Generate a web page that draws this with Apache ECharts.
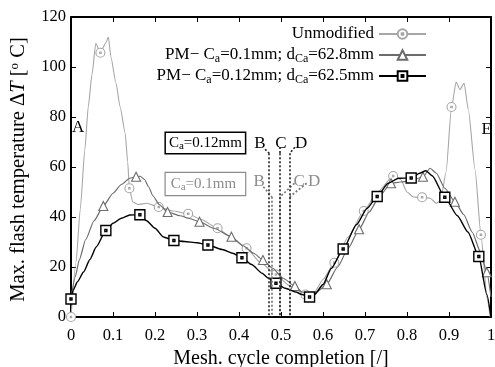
<!DOCTYPE html>
<html><head><meta charset="utf-8">
<script src="https://cdn.jsdelivr.net/npm/echarts@6/dist/echarts.min.js"></script>
<style>html,body{margin:0;padding:0;background:#fff}#c{width:495px;height:367px}</style>
</head><body><div id="c"></div>
<script>
// ---- tick labels ----
const xTickLabels = ['0','0.1','0.2','0.3','0.4','0.5','0.6','0.7','0.8','0.9','1'];
const yTickLabels = ['0','20','40','60','80','100','120'];

// ---- Unmodified ----
const unmodMarkX = [0, 0.07, 0.139, 0.209, 0.279, 0.349, 0.418, 0.488, 0.558, 0.627, 0.697, 0.767, 0.836, 0.906, 0.976];
const unmodMarkY = [0, 105.7, 51.5, 44, 41.3, 35.5, 27.5, 17, 9, 21.7, 42.4, 56.4, 47.9, 84, 32.9];
const unmodCurveX = [0.012,0.022,0.033,0.041,0.05,0.059,0.083,0.089,0.095,0.107,0.117,0.129,0.135,0.147,0.16,0.18,0.24,0.31,0.38,0.45,0.52,0.58,0.60,0.66,0.73,0.785,0.80,0.815,0.855,0.87,0.88,0.893,0.917,0.926,0.936,0.946,0.962,0.991,0.998];
const unmodCurveY = [22,43,67,84,97,109.5,109.7,112,104,93.6,84,73.6,62,46,45,45.5,42.5,39,32,22,12.5,10,15,32,50,55,50,48,47.5,45.5,46.5,58,94,91,93.5,83,59,7,0];

// ---- PM Ca=0.1mm ----
const pm1MarkX = [0.077, 0.155, 0.23, 0.306, 0.382, 0.457, 0.533, 0.609, 0.686, 0.762, 0.838, 0.914, 0.99];
const pm1MarkY = [44.4, 56.1, 42, 38.1, 32.1, 22.8, 12.4, 13.1, 35.1, 53.5, 56.1, 46.1, 17.9];
const pm1CurveX = [0,0.01,0.02,0.035,0.055,0.1,0.12,0.14,0.165,0.175,0.185,0.195,0.21,0.26,0.28,0.34,0.41,0.435,0.48,0.505,0.55,0.57,0.585,0.635,0.66,0.71,0.735,0.785,0.81,0.855,0.87,0.89,0.935,0.955,0.975,1];
const pm1CurveY = [7.5,16,23,31,38.5,49.5,53,55.5,56.3,55,52,48.5,45,40.5,39.5,35.5,28.5,25.5,19.5,15.5,10,9,10,20,27.5,42,48.5,54,54.5,59.5,57.5,51.5,41,34,26,8];

// ---- PM Ca=0.12mm ----
const pm2MarkX = [0, 0.083, 0.164, 0.245, 0.326, 0.407, 0.488, 0.568, 0.648, 0.729, 0.81, 0.89, 0.971];
const pm2MarkY = [7.2, 34.6, 40.9, 30.6, 28.8, 23.7, 13.5, 8, 27.2, 48.2, 55.6, 47.9, 24.2];
const pm2CurveX = [0.006,0.015,0.03,0.045,0.06,0.1,0.12,0.14,0.18,0.2,0.22,0.27,0.3,0.36,0.385,0.43,0.455,0.47,0.51,0.535,0.55,0.58,0.6,0.62,0.68,0.705,0.755,0.78,0.83,0.845,0.86,0.92,0.945,0.99,1];
const pm2CurveY = [11,14,18,23,28,37.5,39.5,40.8,38.5,35.5,32,30.2,29.7,27,25.5,21,17.5,15.5,11.5,10,9,9,13,19.5,37,43.5,53.5,55.5,57.5,58.5,56.5,40.5,34,9,0];

// ---- annotations (data coordinates) ----
const blackCutX = [0.472, 0.498, 0.521]; const blackCutTop = 65.5;
const grayCutX = [0.478, 0.498, 0.521];  const grayCutTop = 48.1;
const blackLeadFrom = [[0.462,67.1],[0.498,68],[0.533,67.9]];
const grayLeadFrom = [[0.458,52.1],[0.532,53.5],[0.561,53.5]];
const cutNames = ['B','C','D'];
const blackLabelPos = [[0.45,69.5],[0.5,69.5],[0.548,69.5]];
const grayLabelPos = [[0.448,54.1],[0.543,54.1],[0.579,54.1]];
const boxBlackPos = [0.32, 69.6];
const boxGrayPos = [0.32, 53.2];
const posA = [0.017, 75.6];
const posE = [0.99, 74.8];

const FONT = 'Liberation Serif';
const C_UN = '#a6a6a6', C_PM1 = '#6c6c6c', C_PM2 = '#000000', C_GRAYANN = '#8c8c8c';

function merge(cx, cy, mx, my) {
  const pts = [];
  cx.forEach((x, i) => pts.push({ value: [x, cy[i]], symbol: 'none' }));
  mx.forEach((x, i) => pts.push({ value: [x, my[i]] }));
  pts.sort((a, b) => a.value[0] - b.value[0]);
  return pts;
}

function cutLines(xs, top, leads) {
  const d = [];
  xs.forEach((x, i) => {
    d.push([{ coord: [x, top] }, { coord: [x, 0] }]);
    d.push([{ coord: leads[i] }, { coord: [x, top] }]);
  });
  return d;
}
function txtPoints(pos, names, color) {
  return pos.map((p, i) => ({ coord: p, label: { formatter: names[i], color: color } }));
}

const SQ = 'path://M0,0H10V10H0Z M4,4H6V6H4Z';
const CI = 'path://M10,5A5,5,0,1,1,0,5A5,5,0,1,1,10,5Z M4.2,4.2H5.8V5.8H4.2Z';

const subRich = {
  n: { fontFamily: FONT, fontSize: 17, lineHeight: 20, color: '#000' },
  s: { fontFamily: FONT, fontSize: 12, lineHeight: 8, verticalAlign: 'bottom', color: '#000' }
};

const markPtBase = {
  symbol: 'circle', symbolSize: 1, itemStyle: { color: 'rgba(0,0,0,0)' },
  label: { show: true, position: 'inside', fontFamily: FONT, fontSize: 17 },
  silent: true, animation: false
};

const chart = echarts.init(document.getElementById('c'), null, { renderer: 'canvas' });
chart.setOption({
  animation: false,
  backgroundColor: '#fff',
  grid: { left: 71, right: 4, top: 17, bottom: 50, containLabel: false, outerBoundsMode: 'none' },
  legend: {
    orient: 'vertical', right: 63, top: 19, align: 'right',
    itemWidth: 47, itemHeight: 12, itemGap: 1,
    data: ['Unmodified', 'PM1', 'PM2'],
    formatter: function (name) {
      if (name === 'Unmodified') return '{n|Unmodified}';
      if (name === 'PM1') return '{n|PM− C}{s|a}{n|=0.1mm; d}{s|Ca}{n|=62.8mm}';
      return '{n|PM− C}{s|a}{n|=0.12mm; d}{s|Ca}{n|=62.5mm}';
    },
    textStyle: { fontFamily: FONT, fontSize: 17, color: '#000', lineHeight: 20, rich: subRich },
    selectedMode: false
  },
  xAxis: [{
    type: 'value', min: 0, max: 1, interval: 0.1, position: 'bottom',
    axisLine: { show: true, onZero: false, lineStyle: { color: '#000', width: 2 } },
    axisTick: { show: true, inside: true, length: 5, lineStyle: { color: '#000', width: 1 } },
    axisLabel: { color: '#000', fontFamily: FONT, fontSize: 16.5, margin: 10,
      formatter: v => xTickLabels[Math.round(v * 10)] },
    splitLine: { show: false },
    name: 'Mesh. cycle completion [/]', nameLocation: 'middle', nameGap: 26,
    nameTextStyle: { fontFamily: FONT, fontSize: 20, color: '#000' }
  }, {
    type: 'value', min: 0, max: 1, interval: 0.1, position: 'top',
    axisLine: { show: true, onZero: false, lineStyle: { color: '#000', width: 2 } },
    axisTick: { show: true, inside: true, length: 5, lineStyle: { color: '#000', width: 1 } },
    axisLabel: { show: false }, splitLine: { show: false }
  }],
  yAxis: [{
    type: 'value', min: 0, max: 120, interval: 20, position: 'left',
    axisLine: { show: true, onZero: false, lineStyle: { color: '#000', width: 2 } },
    axisTick: { show: true, inside: true, length: 5, lineStyle: { color: '#000', width: 1 } },
    axisLabel: { color: '#000', fontFamily: FONT, fontSize: 16.5, margin: 5,
      formatter: v => yTickLabels[Math.round(v / 20)] },
    splitLine: { show: false },
    name: 'Max. flash temperature Δ{i|T} [{sup|o} C]', nameLocation: 'middle', nameGap: 42,
    nameTextStyle: { fontFamily: FONT, fontSize: 20.5, color: '#000', padding: [0, 5, 0, 0],
      rich: {
        i: { fontFamily: FONT, fontSize: 20.5, fontStyle: 'italic', color: '#000' },
        sup: { fontFamily: FONT, fontSize: 13, verticalAlign: 'top', lineHeight: 8, color: '#000' }
      } }
  }, {
    type: 'value', min: 0, max: 120, interval: 20, position: 'right',
    axisLine: { show: true, onZero: false, lineStyle: { color: '#000', width: 2 } },
    axisTick: { show: true, inside: true, length: 5, lineStyle: { color: '#000', width: 1 } },
    axisLabel: { show: false }, splitLine: { show: false }
  }],
  series: [
    {
      name: 'Unmodified', type: 'line', xAxisIndex: 0, yAxisIndex: 0,
      data: merge(unmodCurveX, unmodCurveY, unmodMarkX, unmodMarkY),
      smooth: 0.2, smoothMonotone: 'x', showSymbol: true, showAllSymbol: true,
      symbol: CI, symbolSize: 9,
      lineStyle: { color: C_UN, width: 1.1 },
      itemStyle: { color: '#fff', borderColor: C_UN, borderWidth: 1.1 },
      z: 2, silent: true,
      markPoint: Object.assign({}, markPtBase, {
        data: [{ coord: posA, label: { formatter: 'A', color: '#000' } },
               { coord: posE, label: { formatter: 'E', color: '#000' } }]
      })
    },
    {
      name: 'PM1', type: 'line', xAxisIndex: 0, yAxisIndex: 0,
      data: merge(pm1CurveX, pm1CurveY, pm1MarkX, pm1MarkY),
      smooth: 0.2, smoothMonotone: 'x', showSymbol: true, showAllSymbol: true,
      symbol: 'triangle', symbolSize: 9,
      lineStyle: { color: C_PM1, width: 1.2 },
      itemStyle: { color: '#fff', borderColor: C_PM1, borderWidth: 1.1 },
      z: 3, silent: true,
      markLine: {
        symbol: ['none', 'none'], silent: true, animation: false,
        label: { show: false },
        lineStyle: { color: '#777', width: 1.7, type: [2, 2] },
        data: cutLines(grayCutX, grayCutTop, grayLeadFrom)
      },
      markPoint: Object.assign({}, markPtBase, {
        data: txtPoints(grayLabelPos, cutNames, C_GRAYANN).concat([{
          coord: boxGrayPos,
          label: {
            formatter: '{n|C}{s|a}{n|=0.1mm}', color: C_GRAYANN,
            borderColor: C_GRAYANN, borderWidth: 1.2, backgroundColor: '#fff', padding: [2, 9, 2, 5],
            rich: {
              n: { fontFamily: FONT, fontSize: 15, lineHeight: 18, color: C_GRAYANN },
              s: { fontFamily: FONT, fontSize: 11, lineHeight: 8, verticalAlign: 'bottom', color: C_GRAYANN }
            }
          }
        }])
      })
    },
    {
      name: 'PM2', type: 'line', xAxisIndex: 0, yAxisIndex: 0,
      data: merge(pm2CurveX, pm2CurveY, pm2MarkX, pm2MarkY),
      smooth: 0.2, smoothMonotone: 'x', showSymbol: true, showAllSymbol: true,
      symbol: SQ, symbolSize: 10,
      lineStyle: { color: C_PM2, width: 1.4 },
      itemStyle: { color: '#fff', borderColor: C_PM2, borderWidth: 1.4 },
      z: 4, silent: true,
      markLine: {
        symbol: ['none', 'none'], silent: true, animation: false,
        label: { show: false },
        lineStyle: { color: '#222', width: 1.6, type: [2, 2] },
        data: cutLines(blackCutX, blackCutTop, blackLeadFrom)
      },
      markPoint: Object.assign({}, markPtBase, {
        data: txtPoints(blackLabelPos, cutNames, '#000').concat([{
          coord: boxBlackPos,
          label: {
            formatter: '{n|C}{s|a}{n|=0.12mm}', color: '#000',
            borderColor: '#000', borderWidth: 1.5, backgroundColor: '#fff', padding: [1, 3, 1, 3],
            rich: {
              n: { fontFamily: FONT, fontSize: 15, lineHeight: 18, color: '#000' },
              s: { fontFamily: FONT, fontSize: 11, lineHeight: 8, verticalAlign: 'bottom', color: '#000' }
            }
          }
        }])
      })
    }
  ]
});
</script>
</body></html>
